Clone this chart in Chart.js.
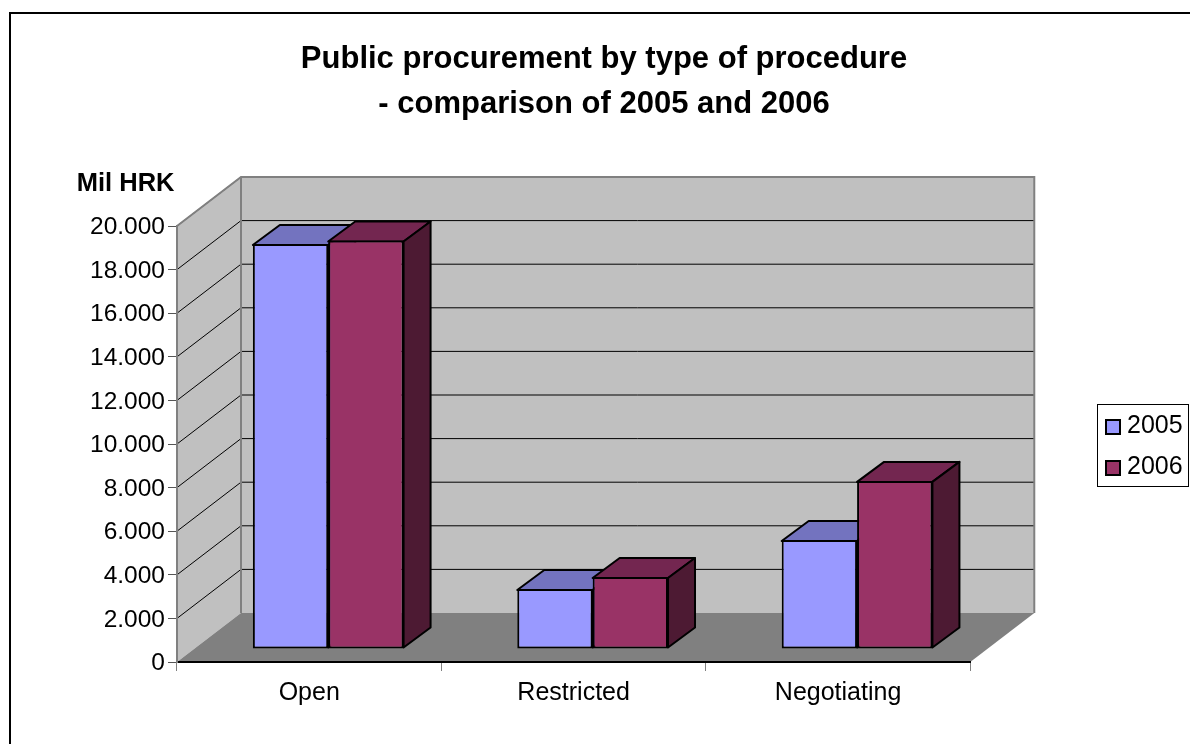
<!DOCTYPE html>
<html>
<head>
<meta charset="utf-8">
<title>Public procurement by type of procedure</title>
<script src="https://cdn.jsdelivr.net/npm/chart.js@4"></script>
<style>
  body { margin: 0; background: #fff; }
  canvas { display: block; }
</style>
</head>
<body>
<canvas id="procurementChart" width="1190" height="744"></canvas>
<script>
  const categories = ['Open', 'Restricted', 'Negotiating'];
  const values2005 = [18580, 2750, 5000];
  const values2006 = [18740, 3300, 7710];
  const seriesNames = ['2005', '2006'];
  const titleLines = ['Public procurement by type of procedure', '- comparison of 2005 and 2006'];
  const unitLabel = 'Mil HRK';

  const frontColors = ['#9999FF', '#993366'];
  const topColors = ['#7373BF', '#732650'];
  const sideColors = ['#4D4D80', '#4D1A33'];

  const FONT = '"Liberation Sans", Arial, sans-serif';
  // depth of the 3D box, and where the bars sit inside that depth
  const DEPTH_X = 64, DEPTH_Y = 49;
  const BAR_SHIFT_X = 19, BAR_SHIFT_Y = 13;
  const BAR_DEPTH_X = 27, BAR_DEPTH_Y = 20;

  function poly(ctx, pts, fill, stroke, width) {
    ctx.beginPath();
    pts.forEach((p, i) => i ? ctx.lineTo(p[0], p[1]) : ctx.moveTo(p[0], p[1]));
    ctx.closePath();
    if (fill) { ctx.fillStyle = fill; ctx.fill(); }
    if (stroke) { ctx.strokeStyle = stroke; ctx.lineWidth = width; ctx.stroke(); }
  }

  // Walls, floor and outer frame
  const boxPlugin = {
    id: 'box3d',
    beforeDraw(chart) {
      const { ctx, chartArea: a, scales } = chart;
      const dx = DEPTH_X, dy = DEPTH_Y;
      ctx.save();
      poly(ctx, [[a.left, a.top], [a.left + dx, a.top - dy], [a.left + dx, a.bottom - dy], [a.left, a.bottom]], '#C0C0C0');
      poly(ctx, [[a.left + dx, a.top - dy], [a.right + dx, a.top - dy], [a.right + dx, a.bottom - dy], [a.left + dx, a.bottom - dy]], '#C0C0C0');
      poly(ctx, [[a.left, a.bottom], [a.left + dx, a.bottom - dy], [a.right + dx, a.bottom - dy], [a.right, a.bottom]], '#808080');

      ctx.strokeStyle = '#000';
      ctx.lineWidth = 1;
      scales.y.ticks.forEach(t => {
        if (t.value === 0) return;
        const y = scales.y.getPixelForValue(t.value);
        ctx.beginPath();
        ctx.moveTo(a.left, y);
        ctx.lineTo(a.left + dx, y - dy);
        ctx.lineTo(a.right + dx, y - dy);
        ctx.stroke();
      });

      ctx.strokeStyle = '#808080';
      ctx.lineWidth = 2;
      ctx.beginPath();
      ctx.moveTo(a.left, a.top);
      ctx.lineTo(a.left + dx, a.top - dy);
      ctx.lineTo(a.right + dx, a.top - dy);
      ctx.lineTo(a.right + dx, a.bottom - dy);
      ctx.moveTo(a.left + dx, a.top - dy);
      ctx.lineTo(a.left + dx, a.bottom - dy);
      ctx.stroke();

      // outer frame, only left and top are in the picture
      ctx.strokeStyle = '#000';
      ctx.lineWidth = 2;
      ctx.beginPath();
      ctx.moveTo(10, chart.height);
      ctx.lineTo(10, 13);
      ctx.lineTo(chart.width, 13);
      ctx.stroke();
      ctx.restore();
    },
    // top and side faces go under all the front faces
    beforeDatasetsDraw(chart) {
      const { ctx } = chart;
      ctx.save();
      ctx.lineJoin = 'round';
      chart.data.datasets.forEach((ds, i) => {
        chart.getDatasetMeta(i).data.forEach(bar => {
          const p = bar.getProps(['x', 'y', 'base', 'width'], true);
          const l = p.x - p.width / 2 + BAR_SHIFT_X, r = p.x + p.width / 2 + BAR_SHIFT_X;
          const t = p.y - BAR_SHIFT_Y + 1, b = p.base - BAR_SHIFT_Y - 1;
          const ox = BAR_DEPTH_X, oy = BAR_DEPTH_Y;
          poly(ctx, [[l, t], [l + ox, t - oy], [r + ox, t - oy], [r, t]], topColors[i], '#000', 2);
          poly(ctx, [[r, t], [r + ox, t - oy], [r + ox, b - oy], [r, b]], sideColors[i], '#000', 2);
        });
      });
      ctx.restore();
    },
    beforeDatasetDraw(chart) {
      chart.ctx.save();
      chart.ctx.translate(BAR_SHIFT_X, -BAR_SHIFT_Y);
    },
    afterDatasetDraw(chart) {
      chart.ctx.restore();
    },
    afterLayout(chart) {
      // legend and title do not follow the plot in this picture
      chart.legend.left = 1098.5;
      chart.legend.right = 1190;
      chart.legend.top = 75;
      chart.legend.bottom = 819;
      chart.titleBlock.left = 18;
      chart.titleBlock.right = 1190;
    },
    afterDraw(chart) {
      const { ctx } = chart;
      ctx.save();
      // unit label over the value axis
      ctx.fillStyle = '#000';
      ctx.font = 'bold 25.5px ' + FONT;
      ctx.textAlign = 'right';
      ctx.textBaseline = 'middle';
      ctx.fillText(unitLabel, 174.5, 184);

      // legend frame and swatches
      ctx.strokeStyle = '#000';
      ctx.lineWidth = 1;
      ctx.strokeRect(1097.5, 404.5, 91, 82);
      frontColors.forEach((c, i) => {
        ctx.fillStyle = c;
        ctx.fillRect(1106, 420 + i * 41, 14, 14);
        ctx.lineWidth = 2;
        ctx.strokeRect(1106, 420 + i * 41, 14, 14);
      });
      ctx.restore();
    }
  };

  new Chart(document.getElementById('procurementChart').getContext('2d'), {
    type: 'bar',
    data: {
      labels: categories,
      datasets: [
        { label: seriesNames[0], data: values2005, backgroundColor: frontColors[0], borderColor: '#000', borderWidth: 2, borderSkipped: false },
        { label: seriesNames[1], data: values2006, backgroundColor: frontColors[1], borderColor: '#000', borderWidth: 2, borderSkipped: false }
      ]
    },
    options: {
      responsive: false,
      animation: false,
      layout: { padding: { left: 18, right: 125.6, top: 0, bottom: 0 } },
      datasets: { bar: { categoryPercentage: 0.57, barPercentage: 1 } },
      plugins: {
        tooltip: { enabled: false },
        title: {
          display: true,
          text: titleLines,
          color: '#000',
          font: { family: FONT, size: 31, weight: 'bold', lineHeight: 1.45 },
          padding: { top: 37, bottom: 99.1 }
        },
        legend: {
          position: 'right',
          labels: {
            color: '#000',
            font: { family: FONT, size: 25 },
            boxWidth: 0,
            padding: 16,
            generateLabels: chart => chart.data.datasets.map((ds, i) => ({
              text: ds.label, fillStyle: 'transparent', strokeStyle: 'transparent', lineWidth: 0, datasetIndex: i
            }))
          }
        }
      },
      scales: {
        x: {
          afterFit: scale => { scale.height = 82; },
          border: { color: '#000', width: 2 },
          grid: { drawOnChartArea: false, tickLength: 9, tickColor: '#808080', tickWidth: 1 },
          ticks: { color: '#000', font: { family: FONT, size: 25 }, padding: 7, maxRotation: 0 }
        },
        y: {
          min: 0,
          max: 20000,
          afterFit: scale => { scale.width = 159; },
          border: { color: '#808080', width: 2 },
          grid: { drawOnChartArea: false, tickLength: 9, tickColor: '#555', tickWidth: 1 },
          ticks: {
            stepSize: 2000,
            color: '#000',
            autoSkip: false,
            font: { family: FONT, size: 24.5 },
            padding: 3,
            labelOffset: 1.5,
            callback: v => v === 0 ? '0' : (v / 1000) + '.000'
          }
        }
      }
    },
    plugins: [boxPlugin]
  });
</script>
</body>
</html>
